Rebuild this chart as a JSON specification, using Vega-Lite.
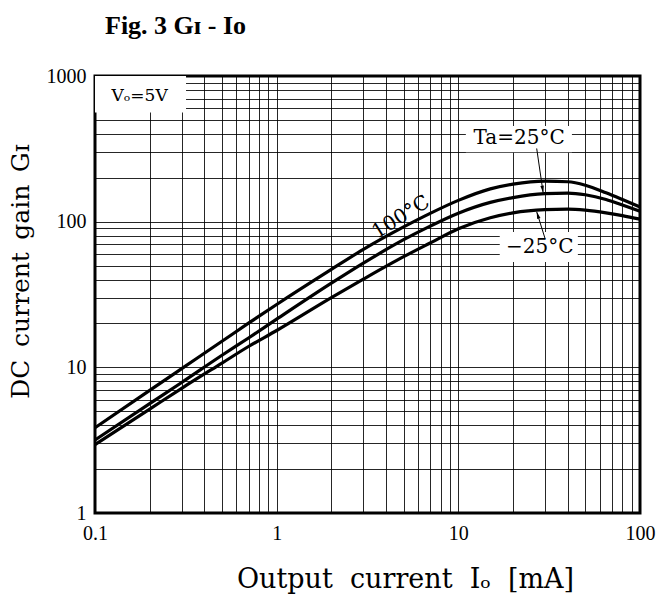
{
  "$schema": "https://vega.github.io/schema/vega-lite/v6.json",
  "width": 545,
  "height": 437,
  "autosize": {"type": "none"},
  "padding": {"left": 95, "top": 76, "right": 27, "bottom": 81},
  "background": "white",
  "title": {
    "text": "Fig. 3 G\u026a - I\u1d0f",
    "anchor": "start",
    "frame": "group",
    "dx": 10,
    "offset": 6,
    "baseline": "alphabetic",
    "font": "Liberation Serif",
    "fontSize": 26,
    "fontWeight": "bold",
    "color": "black"
  },
  "config": {
    "view": {"stroke": "black", "strokeWidth": 3},
    "axis": {
      "grid": true,
      "gridColor": "black",
      "gridOpacity": 0.85,
      "gridWidth": 1,
      "ticks": false,
      "domain": false,
      "labelFont": "Liberation Serif",
      "labelFontSize": 20,
      "labelColor": "black",
      "labelOverlap": false,
      "labelBound": false,
      "labelFlush": false,
      "titleFont": "DejaVu Serif",
      "titleFontWeight": "normal",
      "titleColor": "black"
    }
  },
  "datasets": {
    "curves": [
      {"series": "100°C", "I": 0.1, "G": 3.85},
      {"series": "100°C", "I": 0.2, "G": 6.95},
      {"series": "100°C", "I": 0.3, "G": 9.8},
      {"series": "100°C", "I": 0.5, "G": 15.1},
      {"series": "100°C", "I": 0.7, "G": 20.1},
      {"series": "100°C", "I": 1, "G": 27},
      {"series": "100°C", "I": 2, "G": 47},
      {"series": "100°C", "I": 3, "G": 64.5},
      {"series": "100°C", "I": 5, "G": 92},
      {"series": "100°C", "I": 7, "G": 114},
      {"series": "100°C", "I": 10, "G": 140},
      {"series": "100°C", "I": 15, "G": 168},
      {"series": "100°C", "I": 20, "G": 181},
      {"series": "100°C", "I": 30, "G": 190},
      {"series": "100°C", "I": 40, "G": 188},
      {"series": "100°C", "I": 50, "G": 178},
      {"series": "100°C", "I": 65, "G": 158},
      {"series": "100°C", "I": 80, "G": 142},
      {"series": "100°C", "I": 100, "G": 126},
      {"series": "25°C", "I": 0.1, "G": 3.17},
      {"series": "25°C", "I": 0.2, "G": 5.63},
      {"series": "25°C", "I": 0.3, "G": 7.87},
      {"series": "25°C", "I": 0.5, "G": 12.1},
      {"series": "25°C", "I": 0.7, "G": 15.9},
      {"series": "25°C", "I": 1, "G": 21.4},
      {"series": "25°C", "I": 2, "G": 37.8},
      {"series": "25°C", "I": 3, "G": 51.9},
      {"series": "25°C", "I": 5, "G": 75.2},
      {"series": "25°C", "I": 7, "G": 93.2},
      {"series": "25°C", "I": 10, "G": 114.3},
      {"series": "25°C", "I": 15, "G": 135.6},
      {"series": "25°C", "I": 20, "G": 146.4},
      {"series": "25°C", "I": 30, "G": 155.6},
      {"series": "25°C", "I": 40, "G": 157},
      {"series": "25°C", "I": 50, "G": 153},
      {"series": "25°C", "I": 65, "G": 142},
      {"series": "25°C", "I": 80, "G": 130},
      {"series": "25°C", "I": 100, "G": 118},
      {"series": "-25°C", "I": 0.1, "G": 2.95},
      {"series": "-25°C", "I": 0.2, "G": 5.17},
      {"series": "-25°C", "I": 0.3, "G": 7.18},
      {"series": "-25°C", "I": 0.5, "G": 10.7},
      {"series": "-25°C", "I": 0.7, "G": 13.9},
      {"series": "-25°C", "I": 1, "G": 17.9},
      {"series": "-25°C", "I": 2, "G": 30.1},
      {"series": "-25°C", "I": 3, "G": 40.3},
      {"series": "-25°C", "I": 5, "G": 57.5},
      {"series": "-25°C", "I": 7, "G": 71.4},
      {"series": "-25°C", "I": 10, "G": 89.5},
      {"series": "-25°C", "I": 15, "G": 106.5},
      {"series": "-25°C", "I": 20, "G": 115},
      {"series": "-25°C", "I": 30, "G": 121},
      {"series": "-25°C", "I": 40, "G": 122},
      {"series": "-25°C", "I": 50, "G": 120},
      {"series": "-25°C", "I": 65, "G": 115},
      {"series": "-25°C", "I": 80, "G": 110},
      {"series": "-25°C", "I": 100, "G": 104}
    ],
    "boxes": [
      {"name": "Vo", "I": 0.1, "I2": 0.317, "G": 562, "G2": 1000},
      {"name": "Ta", "I": 11.0, "I2": 42.2, "G": 300, "G2": 453},
      {"name": "m25", "I": 16.9, "I2": 45.5, "G": 52.8, "G2": 84.9}
    ],
    "arrows": [
      {"name": "Ta", "I": 27.0, "G": 318, "I2": 29.3, "G2": 158},
      {"name": "m25", "I": 30.0, "G": 76.8, "I2": 27.0, "G2": 117}
    ],
    "labels": [
      {"text": "Ta=25°C", "I": 21.6, "G": 375},
      {"text": "\u221225°C", "I": 28.1, "G": 67}
    ],
    "vlabel": [
      {"text": "V\u2092=5V", "I": 0.176, "G": 728}
    ],
    "rlabel": [
      {"text": "100°C", "I": 4.83, "G": 107.6}
    ]
  },
  "layer": [
    {
      "data": {"name": "curves"},
      "mark": {"type": "line", "color": "black", "strokeWidth": 3.2, "interpolate": "monotone"},
      "encoding": {
        "x": {
          "field": "I", "type": "quantitative",
          "scale": {"type": "log", "domain": [0.1, 100], "nice": false},
          "axis": {
            "title": "Output\u2007current\u2007I\u2092\u2007[mA]",
            "values": [0.1,0.2,0.3,0.4,0.5,0.6,0.7,0.8,0.9,1,2,3,4,5,6,7,8,9,10,20,30,40,50,60,70,80,90,100],
            "format": "~g",
            "labelExpr": "indexof([0.1,1,10,100], datum.value) >= 0 ? datum.label : ''",
            "labelPadding": 10,
            "titleFontSize": 27,
            "titleX": 310,
            "titleY": 74,
            "titleAlign": "center",
            "titleBaseline": "alphabetic"
          }
        },
        "y": {
          "field": "G", "type": "quantitative",
          "scale": {"type": "log", "domain": [1, 1000], "nice": false},
          "axis": {
            "title": "DC\u2002current\u2002gain\u2002G\u026a",
            "values": [1,2,3,4,5,6,7,8,9,10,20,30,40,50,60,70,80,90,100,200,300,400,500,600,700,800,900,1000],
            "format": "~g",
            "labelExpr": "indexof([1,10,100,1000], datum.value) >= 0 ? datum.label : ''",
            "labelPadding": 9,
            "titleFontSize": 25,
            "titleAngle": -90,
            "titleX": -75,
            "titleY": 195,
            "titleAlign": "center",
            "titleBaseline": "middle"
          }
        },
        "detail": {"field": "series", "type": "nominal"}
      }
    },
    {
      "data": {"name": "boxes"},
      "mark": {"type": "rect", "fill": "white", "stroke": null},
      "encoding": {
        "x": {"field": "I", "type": "quantitative", "scale": {"type": "log", "domain": [0.1, 100], "nice": false}},
        "x2": {"field": "I2"},
        "y": {"field": "G", "type": "quantitative", "scale": {"type": "log", "domain": [1, 1000], "nice": false}},
        "y2": {"field": "G2"}
      }
    },
    {
      "data": {"name": "arrows"},
      "mark": {"type": "rule", "color": "black", "strokeWidth": 1},
      "encoding": {
        "x": {"field": "I", "type": "quantitative", "scale": {"type": "log", "domain": [0.1, 100], "nice": false}},
        "x2": {"field": "I2"},
        "y": {"field": "G", "type": "quantitative", "scale": {"type": "log", "domain": [1, 1000], "nice": false}},
        "y2": {"field": "G2"}
      }
    },
    {
      "data": {"name": "arrows"},
      "mark": {"type": "point", "shape": "M0,0L-0.5,-2L0.5,-2Z", "filled": true, "color": "black", "size": 50, "opacity": 1},
      "encoding": {
        "x": {"field": "I2", "type": "quantitative", "scale": {"type": "log", "domain": [0.1, 100], "nice": false}},
        "y": {"field": "G2", "type": "quantitative", "scale": {"type": "log", "domain": [1, 1000], "nice": false}},
        "angle": {"field": "name", "type": "nominal", "scale": {"domain": ["Ta", "m25"], "range": [351.5, 162.7]}, "legend": null}
      }
    },
    {
      "data": {"name": "labels"},
      "mark": {"type": "text", "font": "DejaVu Serif", "fontSize": 20, "color": "black", "align": "center", "baseline": "middle"},
      "encoding": {
        "x": {"field": "I", "type": "quantitative", "scale": {"type": "log", "domain": [0.1, 100], "nice": false}},
        "y": {"field": "G", "type": "quantitative", "scale": {"type": "log", "domain": [1, 1000], "nice": false}},
        "text": {"field": "text"}
      }
    },
    {
      "data": {"name": "vlabel"},
      "mark": {"type": "text", "font": "DejaVu Serif", "fontSize": 17, "color": "black", "align": "center", "baseline": "middle"},
      "encoding": {
        "x": {"field": "I", "type": "quantitative", "scale": {"type": "log", "domain": [0.1, 100], "nice": false}},
        "y": {"field": "G", "type": "quantitative", "scale": {"type": "log", "domain": [1, 1000], "nice": false}},
        "text": {"field": "text"}
      }
    },
    {
      "data": {"name": "rlabel"},
      "mark": {"type": "text", "font": "DejaVu Serif", "fontSize": 20, "color": "black", "align": "center", "baseline": "middle", "angle": 328},
      "encoding": {
        "x": {"field": "I", "type": "quantitative", "scale": {"type": "log", "domain": [0.1, 100], "nice": false}},
        "y": {"field": "G", "type": "quantitative", "scale": {"type": "log", "domain": [1, 1000], "nice": false}},
        "text": {"field": "text"}
      }
    }
  ]
}
